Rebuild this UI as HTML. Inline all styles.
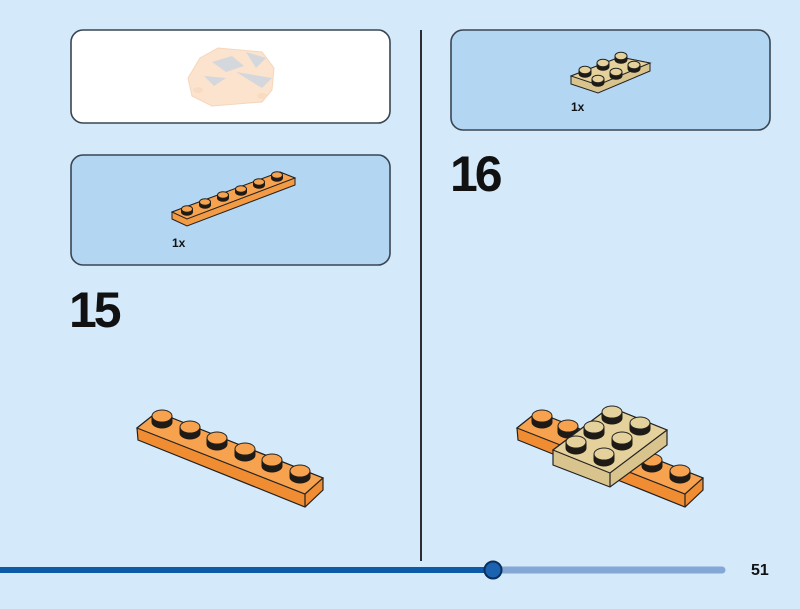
<!DOCTYPE html>
<html><head><style>
body{margin:0;width:800px;height:604px;background:#d4eafa;overflow:hidden;font-family:"Liberation Sans",sans-serif}
</style></head><body>
<svg id="sv" width="800" height="604" viewBox="0 0 800 604" xmlns="http://www.w3.org/2000/svg" font-family="Liberation Sans, sans-serif">
<rect x="0" y="0" width="800" height="604" fill="#d4eafa"/>
<rect x="71" y="30" width="319" height="93" rx="12" fill="#ffffff" stroke="#3a4552" stroke-width="1.6"/>
<rect x="71" y="155" width="319" height="110" rx="12" fill="#b3d6f2" stroke="#3a4552" stroke-width="1.6"/>
<rect x="451" y="30" width="319" height="100" rx="12" fill="#b3d6f2" stroke="#3a4552" stroke-width="1.6"/>
<line x1="421" y1="30" x2="421" y2="561" stroke="#2b2f33" stroke-width="2"/>
<!-- ghost model -->
<g opacity="0.6">
<path d="M188 78 L200 58 L218 48 L262 52 L274 68 L272 90 L262 102 L212 106 L192 96 Z" fill="#f9d2ae" stroke="#eebb90"/>
<path d="M212 62 L232 56 L244 66 L226 72 Z M246 52 L266 58 L256 68 Z M236 72 L272 78 L262 88 Z M204 76 L226 78 L214 86 Z" fill="#b8bec6"/>
<ellipse cx="198" cy="90" rx="5" ry="3" fill="#f6c49a"/><ellipse cx="262" cy="96" rx="5" ry="3" fill="#f6c49a"/>
</g>
<!-- box2 plate -->
<g stroke="#222" stroke-width="1">
<polygon points="172,212 280,172 295,178 295,185 187,226 172,219" fill="#f39a45"/>
<polygon points="172,212 280,172 295,178 187,219" fill="#f6a24f"/>
</g>
<g class="st" data-r="5.5" data-ry="3.3" data-h="3" data-c="#f6a24f">
<ellipse cx="187" cy="209"/><ellipse cx="205" cy="202"/><ellipse cx="223" cy="195"/><ellipse cx="241" cy="189"/><ellipse cx="259" cy="182"/><ellipse cx="277" cy="175"/>
</g>
<text x="172" y="247" font-size="12" font-weight="bold" fill="#111">1x</text>
<!-- box3 tan plate -->
<g stroke="#222" stroke-width="1">
<polygon points="571,76 620,57 650,63 650,71 598,93 571,84" fill="#d9c48e"/>
<polygon points="571,76 620,57 650,63 598,85" fill="#e4d19c"/>
</g>
<g class="st" data-r="6" data-ry="3.8" data-h="3.5" data-c="#e4d19c">
<ellipse cx="621" cy="56"/><ellipse cx="603" cy="63"/><ellipse cx="585" cy="70"/>
<ellipse cx="634" cy="65"/><ellipse cx="616" cy="72"/><ellipse cx="598" cy="79"/>
</g>
<text x="571" y="111" font-size="12" font-weight="bold" fill="#111">1x</text>
<text x="69" y="327" font-size="50" font-weight="bold" fill="#111" letter-spacing="-3">15</text>
<text x="450" y="191" font-size="50" font-weight="bold" fill="#111" letter-spacing="-3">16</text>
<!-- step 15 plate -->
<g stroke="#222" stroke-width="1.2">
<polygon points="137,428 157,412 323,478 323,490 305,507 138,440" fill="#f08d32"/>
<polygon points="137,428 157,412 323,478 305,494" fill="#f6a24f"/>
<line x1="305" y1="494" x2="305" y2="507"/>
</g>
<g class="st" data-r="10" data-ry="6" data-h="6" data-c="#f6a24f">
<ellipse cx="162" cy="416"/><ellipse cx="190" cy="427"/><ellipse cx="217" cy="438"/><ellipse cx="245" cy="449"/><ellipse cx="272" cy="460"/><ellipse cx="300" cy="471"/>
</g>
<!-- step 16 -->
<g stroke="#222" stroke-width="1.2">
<polygon points="517,428 537,412 703,478 703,490 685,507 518,440" fill="#f08d32"/>
<polygon points="517,428 537,412 703,478 685,494" fill="#f6a24f"/>
<line x1="685" y1="494" x2="685" y2="507"/>
</g>
<g class="st" data-r="10" data-ry="6" data-h="6" data-c="#f6a24f">
<ellipse cx="542" cy="416"/><ellipse cx="568" cy="426"/><ellipse cx="652" cy="460"/><ellipse cx="680" cy="471"/>
</g>
<g stroke="#222" stroke-width="1.2">
<polygon points="553,450 610,407 667,430 667,445 610,487 553,465" fill="#d9c48e"/>
<polygon points="553,450 610,407 667,430 610,473" fill="#e4d19c"/>
<line x1="610" y1="473" x2="610" y2="487"/>
</g>
<g class="st" data-r="10" data-ry="6" data-h="6" data-c="#e4d19c">
<ellipse cx="612" cy="412"/><ellipse cx="640" cy="423"/>
<ellipse cx="594" cy="427"/><ellipse cx="622" cy="438"/>
<ellipse cx="576" cy="442"/><ellipse cx="604" cy="454"/>
</g>
<!-- progress bar -->
<line x1="493" y1="570" x2="722" y2="570" stroke="#84a7d6" stroke-width="7" stroke-linecap="round"/>
<line x1="0" y1="570" x2="493" y2="570" stroke="#0c5aa8" stroke-width="6"/>
<circle cx="493" cy="570" r="8.5" fill="#1b63b0" stroke="#0b2f5c" stroke-width="2"/>
<text x="751" y="575" font-size="16" font-weight="bold" fill="#111">51</text>
</svg>
<script>
var NS="http://www.w3.org/2000/svg";
document.querySelectorAll('g.st').forEach(function(g){
  var r=+g.dataset.r, ry=+g.dataset.ry, h=+g.dataset.h, c=g.dataset.c;
  var es=[].slice.call(g.querySelectorAll('ellipse'));
  es.forEach(function(e){
    var cx=+e.getAttribute('cx'), cy=+e.getAttribute('cy');
    var p=document.createElementNS(NS,'path');
    p.setAttribute('d','M'+(cx-r)+' '+cy+' L'+(cx-r)+' '+(cy+h)+' A'+r+' '+ry+' 0 0 0 '+(cx+r)+' '+(cy+h)+' L'+(cx+r)+' '+cy+' Z');
    p.setAttribute('fill','#1e1a16');p.setAttribute('stroke','#1e1a16');
    g.insertBefore(p,e);
    e.setAttribute('rx',r);e.setAttribute('ry',ry);e.setAttribute('fill',c);
    e.setAttribute('stroke','#222');e.setAttribute('stroke-width','1');
  });
});
</script>
</body></html>
